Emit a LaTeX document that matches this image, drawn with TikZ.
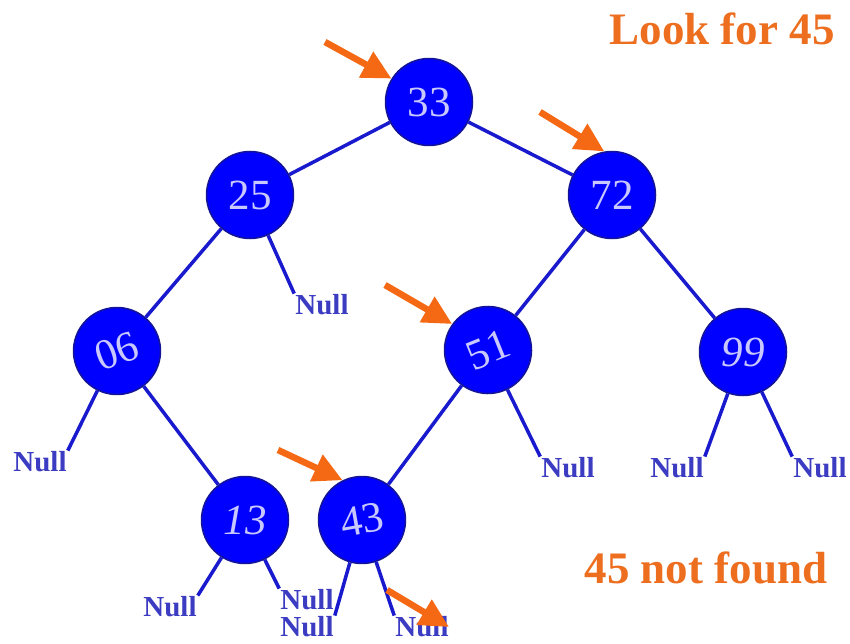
\documentclass[tikz,border=0pt]{standalone}
\usepackage{fontspec}
\setmainfont{Liberation Serif}
\usetikzlibrary{arrows.meta}
\definecolor{keyblue}{RGB}{0,0,255}
\definecolor{rimblue}{RGB}{20,20,150}
\definecolor{edgeblue}{RGB}{25,25,205}
\definecolor{nullblue}{RGB}{60,60,195}
\definecolor{keytext}{RGB}{200,200,255}
\definecolor{hint}{RGB}{236,110,30}
\definecolor{pointer}{RGB}{245,105,20}

\begin{document}
\begin{tikzpicture}[x=1pt,y=-1pt]
        \tikzstyle{key}=[circle,fill=keyblue,draw=rimblue,line width=1.5pt,minimum size=87pt,inner sep=0pt,text=keytext,font=\fontsize{43}{43}\selectfont]
        \tikzstyle{leaf}=[inner sep=1pt,text=nullblue,font=\fontsize{29}{29}\selectfont\bfseries]
        \tikzstyle{edge}=[draw=edgeblue,line width=3.5pt]
        \tikzstyle{ptr}=[draw=pointer,line width=6.5pt,-{Triangle[length=29pt,width=28pt]}]
        \tikzstyle{msg}=[text=hint,font=\fontsize{45}{45}\selectfont\bfseries]
        \useasboundingbox (0,0) rectangle (850,644);

        % search tree
        \node[key] (n33) at (429,102) {33};
        \node[key] (n25) at (250,195) {25};
        \node[key] (n72) at (612,195) {72};
        \node[key,rotate=20] (n06) at (117,351) {06};
        \node[key,rotate=22] (n51) at (488,350) {51};
        \node[key] (n99) at (743,352) {\itshape 99};
        \node[key] (n13) at (245,520) {\itshape 13};
        \node[key,rotate=10] (n43) at (362,520) {43};

        % empty subtrees
        \node[leaf] (null25) at (322,305) {Null};
        \node[leaf] (null06) at (40,462) {Null};
        \node[leaf] (null51) at (568,468) {Null};
        \node[leaf] (null99l) at (677,468) {Null};
        \node[leaf] (null99r) at (820,468) {Null};
        \node[leaf] (null13l) at (170,607) {Null};
        \node[leaf] (null13r) at (307,600) {Null};
        \node[leaf] (null43l) at (307,627) {Null};
        \node[leaf] (null43r) at (422,627) {Null};

        \draw[edge] (n33) -- (n25);
        \draw[edge] (n33) -- (n72);
        \draw[edge] (n25) -- (n06);
        \draw[edge] (n72) -- (n51);
        \draw[edge] (n72) -- (n99);
        \draw[edge] (n06) -- (n13);
        \draw[edge] (n51) -- (n43);

        \draw[edge] (n25) -- (null25.north west);
        \draw[edge] (n06) -- (null06.north east);
        \draw[edge] (n51) -- (null51.north west);
        \draw[edge] (n99) -- (null99l.north east);
        \draw[edge] (n99) -- (null99r.north west);
        \draw[edge] (n13) -- (null13l.north east);
        \draw[edge] (n13) -- (null13r.north west);
        \draw[edge] (n43) -- (null43l.north east);
        \draw[edge] (n43) -- (null43r.north west);

        \node[msg,anchor=base] (look) at (722,45) {Look for 45};
        \node[msg,anchor=base] (result) at (706,583) {45 not found};

        % search path pointers (n51 and n43 are rotated, so their anchor angles are too)
        \coordinate (p1) at (325,42);
        \coordinate (p2) at (540,112);
        \coordinate (p3) at (385,285);
        \coordinate (p4) at (278,450);
        \coordinate (p5) at (387,590);
        \coordinate (p6) at (449,627);
        \draw[ptr] (p1) -- (n33.148);
        \draw[ptr] (p2) -- (n72.100);
        \draw[ptr] (p3) -- (n51.122);
        \draw[ptr] (p4) -- (n43.106);
        \draw[ptr] (p5) -- (p6);
\end{tikzpicture}
\end{document}
